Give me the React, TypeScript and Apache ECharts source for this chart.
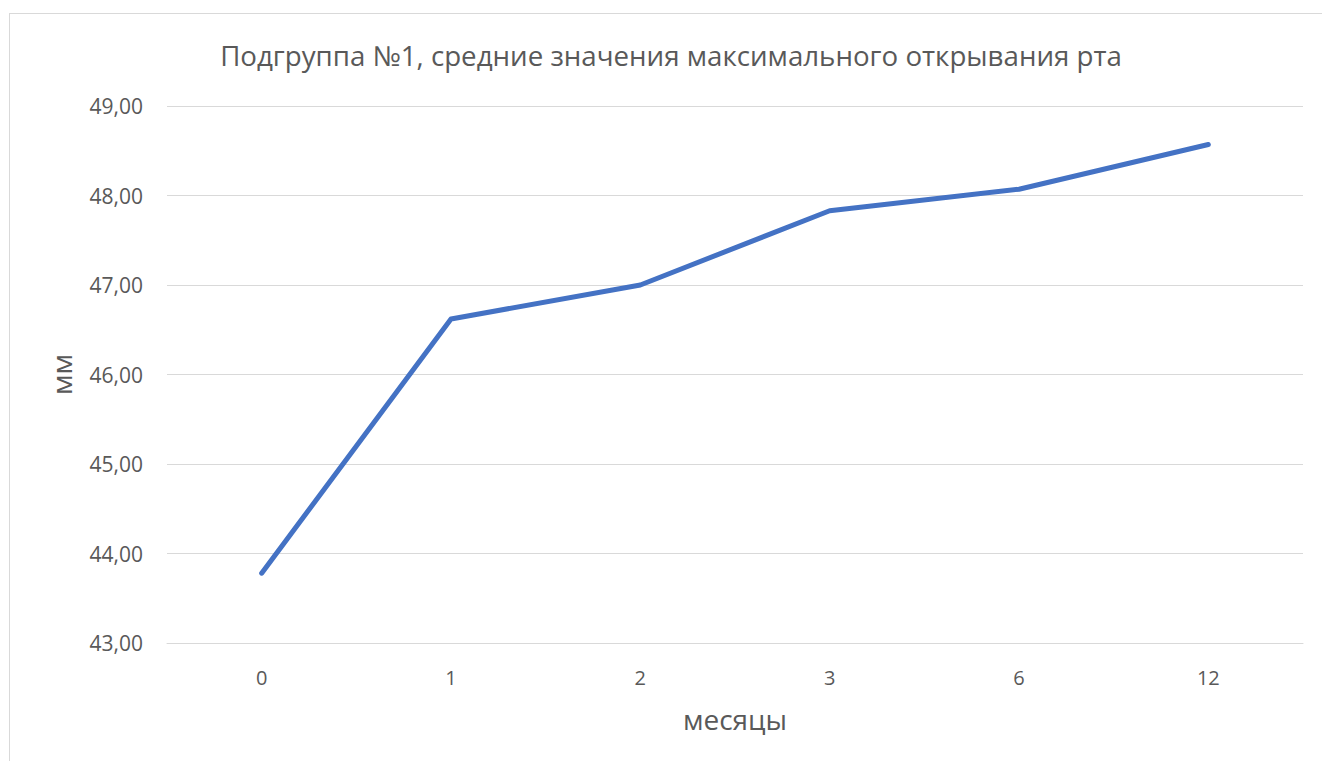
import React, { useEffect, useRef } from "react";
import * as echarts from "echarts";

const categories = ["0", "1", "2", "3", "6", "12"];
const values = [43.78, 46.62, 47.0, 47.83, 48.07, 48.57];
const titleText = "Подгруппа №1, средние значения максимального открывания рта";
const xName = "месяцы";
const yName = "мм";

export default function App() {
  const ref = useRef<HTMLDivElement>(null);
  useEffect(() => {
    if (!ref.current) return;
    const chart = echarts.init(ref.current, null, { renderer: "svg" });
    const font = "'Open Sans', 'Noto Sans', sans-serif";
    chart.setOption({
      animation: false,
      backgroundColor: "#ffffff",
      textStyle: { fontFamily: font },
      graphic: [
        { type: "line", shape: { x1: 9, y1: 13.5, x2: 1322, y2: 13.5 }, style: { stroke: "#d9d9d9", lineWidth: 1 } },
        { type: "line", shape: { x1: 9.5, y1: 13, x2: 9.5, y2: 761 }, style: { stroke: "#d9d9d9", lineWidth: 1 } },
        {
          type: "text",
          x: 671,
          y: 55,
          style: {
            text: titleText,
            fontFamily: font,
            fontSize: 27.7,
            fill: "#595959",
            textAlign: "center",
            textVerticalAlign: "middle",
          },
        },
      ],
      grid: { left: 167, right: 19, top: 106, bottom: 118, containLabel: false },
      xAxis: {
        type: "category",
        data: categories,
        boundaryGap: true,
        name: xName,
        nameLocation: "middle",
        nameGap: 62,
        nameTextStyle: { fontFamily: font, fontSize: 28, color: "#595959" },
        axisLine: { show: true, lineStyle: { color: "#d9d9d9", width: 1 } },
        axisTick: { show: false },
        axisLabel: { fontFamily: font, fontSize: 20, color: "#595959", margin: 24 },
        splitLine: { show: false },
      },
      yAxis: {
        type: "value",
        min: 43,
        max: 49,
        interval: 1,
        name: yName,
        nameLocation: "middle",
        nameGap: 92,
        nameTextStyle: { fontFamily: font, fontSize: 28, color: "#595959" },
        axisLine: { show: false },
        axisTick: { show: false },
        axisLabel: {
          fontFamily: font,
          fontSize: 21,
          color: "#595959",
          margin: 24,
          formatter: (v: number) => v.toFixed(2).replace(".", ","),
        },
        splitLine: { show: true, lineStyle: { color: "#d9d9d9", width: 1 } },
      },
      series: [
        {
          type: "line",
          data: values,
          showSymbol: false,
          symbol: "none",
          lineStyle: { color: "#4472C4", width: 5, cap: "round", join: "round" },
          itemStyle: { color: "#4472C4" },
        },
      ],
    });
    return () => chart.dispose();
  }, []);
  return (
    <div
      ref={ref}
      style={{ position: "fixed", left: 0, top: 0, width: 1322, height: 761, background: "#fff" }}
    />
  );
}
